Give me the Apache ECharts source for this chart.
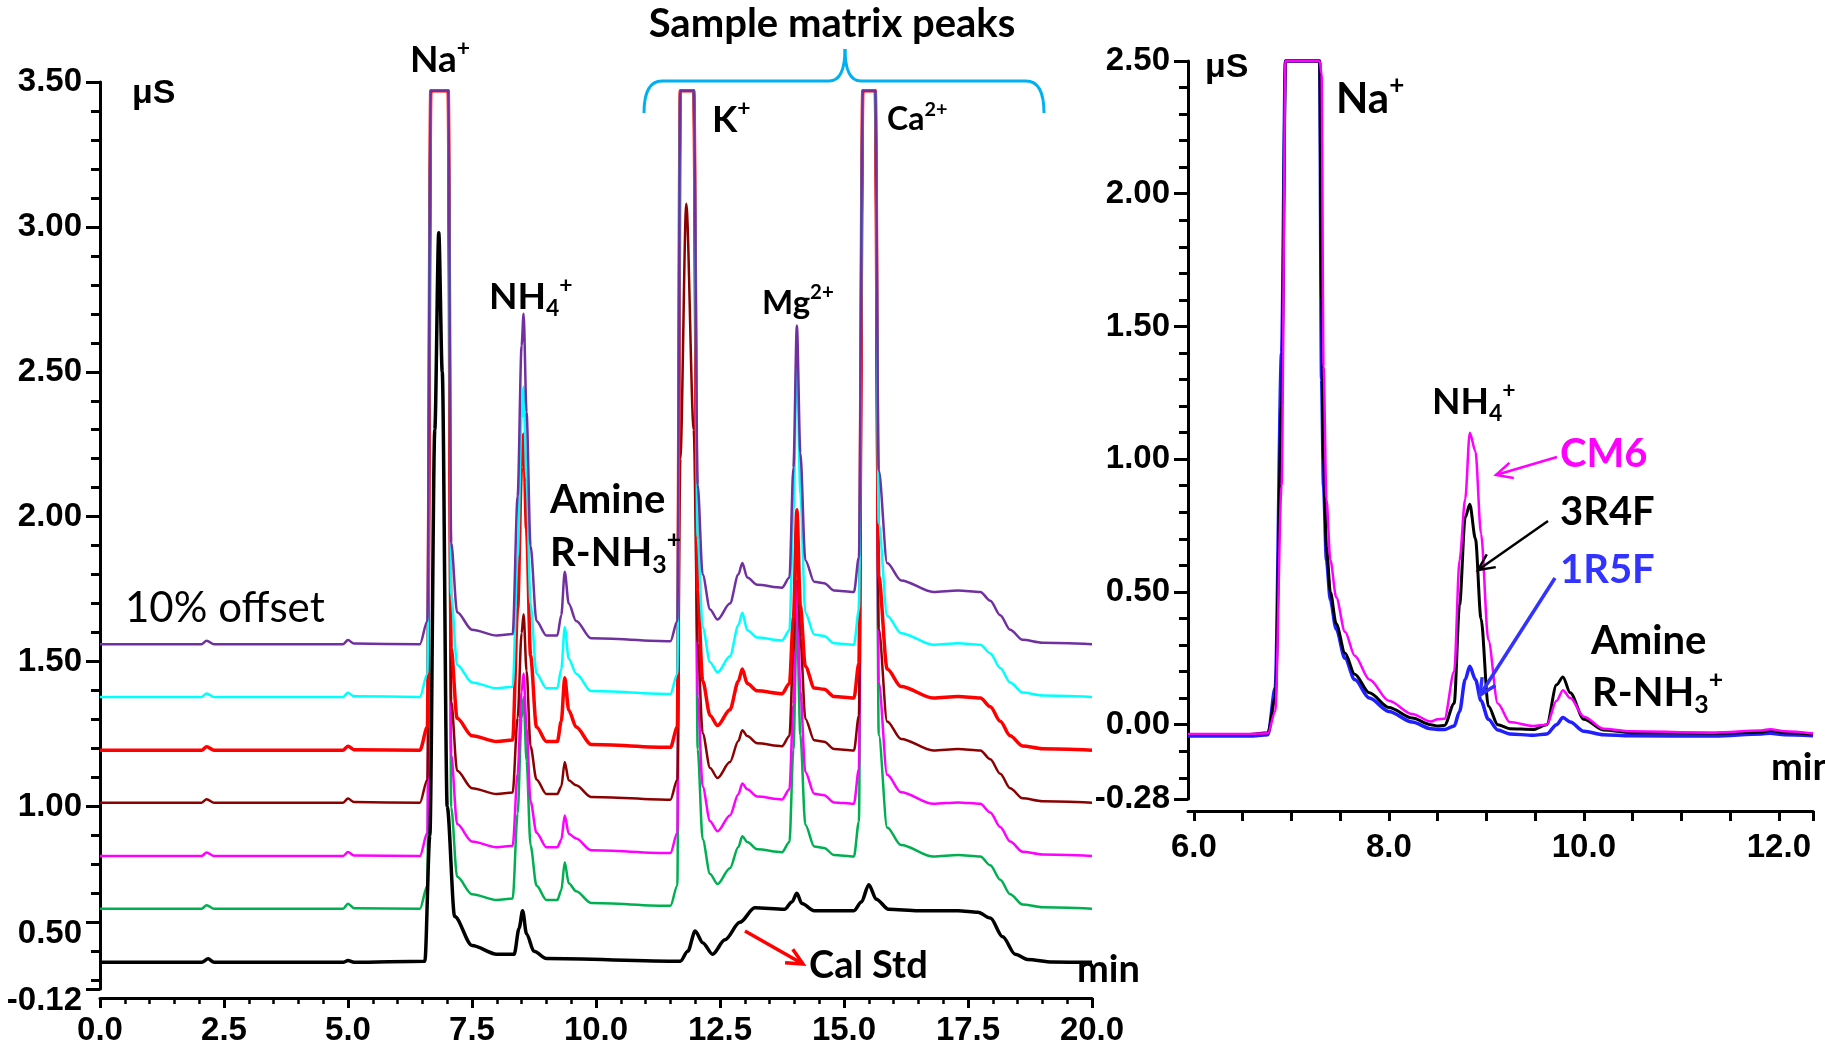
<!DOCTYPE html>
<html><head><meta charset="utf-8">
<script src="https://cdn.jsdelivr.net/npm/echarts@6/dist/echarts.min.js"></script>
<style>html,body{margin:0;padding:0;background:#fff}#c{width:1825px;height:1052px}</style>
</head><body><div id="c"></div>
<script>
// ---------- Left panel: offset chromatograms (time in min, signal in µS display units) ----------
const tSample = [0,2.05,2.15,2.3,4.9,5.0,5.12,6.45,6.6,6.67,7.02,7.08,7.2,7.5,8.0,8.32,8.42,8.5,8.54,8.6,8.68,8.8,9.0,9.22,9.3,9.37,9.45,9.6,9.9,11.5,11.64,11.7,11.82,11.97,12.05,12.15,12.3,12.45,12.7,12.87,12.95,13.05,13.25,13.75,13.9,13.98,14.05,14.12,14.22,14.4,14.6,14.8,15.2,15.3,15.38,15.63,15.7,15.87,16.15,16.8,17.3,17.75,17.95,18.15,18.35,18.6,19.0,20.0];
const purpleTrace = [1.56,1.56,1.572,1.56,1.56,1.574,1.562,1.56,1.64,3.47,3.47,1.91,1.67,1.61,1.59,1.595,2.07,2.59,2.70,2.36,1.90,1.64,1.59,1.59,1.66,1.81,1.70,1.64,1.58,1.57,1.64,3.47,3.47,3.47,2.11,1.80,1.68,1.645,1.70,1.80,1.84,1.79,1.765,1.755,1.79,2.17,2.66,2.22,1.85,1.775,1.77,1.745,1.74,1.86,3.47,3.47,2.16,1.84,1.78,1.74,1.745,1.74,1.71,1.66,1.61,1.575,1.565,1.56];
const cyanTrace = [1.378,1.378,1.39,1.378,1.378,1.392,1.38,1.378,1.458,3.47,3.47,1.728,1.488,1.428,1.408,1.413,1.86,2.34,2.448,2.127,1.70,1.458,1.408,1.408,1.474,1.618,1.51,1.458,1.398,1.388,1.458,3.47,3.47,3.47,1.928,1.618,1.498,1.463,1.518,1.625,1.668,1.608,1.583,1.573,1.608,2.02,2.548,2.08,1.668,1.593,1.588,1.563,1.558,1.678,3.47,3.47,1.978,1.658,1.598,1.558,1.563,1.558,1.528,1.478,1.428,1.393,1.383,1.378];
const redTrace = [1.194,1.194,1.206,1.194,1.194,1.208,1.196,1.194,1.274,3.47,3.47,1.544,1.304,1.244,1.224,1.229,1.685,2.175,2.284,1.957,1.521,1.274,1.224,1.224,1.294,1.444,1.332,1.274,1.214,1.204,1.274,3.47,3.47,3.47,1.744,1.434,1.314,1.279,1.334,1.432,1.474,1.424,1.399,1.389,1.424,1.651,2.024,1.692,1.484,1.409,1.404,1.379,1.374,1.494,3.47,3.47,1.794,1.474,1.414,1.374,1.379,1.374,1.344,1.294,1.244,1.209,1.199,1.194];
const maroonTrace = [1.013,1.013,1.025,1.013,1.013,1.027,1.015,1.013,1.093,3.47,3.47,1.363,1.123,1.063,1.043,1.048,1.306,1.598,1.663,1.468,1.208,1.093,1.043,1.043,1.069,1.153,1.09,1.073,1.033,1.023,1.093,2.2,3.08,2.3,1.563,1.253,1.133,1.098,1.153,1.226,1.263,1.243,1.218,1.208,1.243,1.536,1.963,1.583,1.303,1.228,1.223,1.198,1.193,1.313,3.47,3.47,1.613,1.293,1.233,1.193,1.198,1.193,1.163,1.113,1.063,1.028,1.018,1.013];
const magentaTrace = [0.829,0.829,0.841,0.829,0.829,0.843,0.831,0.829,0.909,3.47,3.47,1.179,0.939,0.879,0.859,0.864,1.113,1.396,1.459,1.27,1.018,0.909,0.859,0.859,0.885,0.969,0.906,0.889,0.849,0.839,0.909,3.47,3.47,3.47,1.379,1.069,0.949,0.914,0.969,1.042,1.079,1.059,1.034,1.024,1.059,1.352,1.779,1.399,1.119,1.044,1.039,1.014,1.009,1.129,3.47,3.47,1.429,1.109,1.049,1.009,1.014,1.009,0.979,0.929,0.879,0.844,0.834,0.829];
const greenTrace = [0.647,0.647,0.659,0.647,0.647,0.664,0.649,0.647,0.727,3.47,3.47,0.997,0.757,0.697,0.677,0.682,0.976,1.304,1.377,1.158,0.866,0.727,0.677,0.677,0.711,0.807,0.735,0.707,0.667,0.657,0.727,3.47,3.47,3.47,1.197,0.887,0.767,0.732,0.787,0.860,0.897,0.877,0.852,0.842,0.877,1.197,1.647,1.247,0.937,0.862,0.857,0.832,0.827,0.947,3.47,3.47,1.247,0.927,0.867,0.827,0.832,0.827,0.797,0.747,0.697,0.662,0.652,0.647];
const tCal = [0,2.05,2.18,2.3,4.9,5.0,5.12,6.55,6.65,6.75,6.83,6.9,7.0,7.15,7.5,8.0,8.35,8.45,8.52,8.6,8.75,9.0,11.7,11.85,12.0,12.15,12.35,12.6,12.9,13.2,13.8,13.95,14.05,14.15,14.4,15.2,15.35,15.5,15.65,15.9,16.5,17.3,17.7,17.95,18.2,18.45,18.7,19.2,20];
const calStd = [0.462,0.462,0.474,0.462,0.462,0.468,0.462,0.466,0.9,2.3,2.98,2.5,1.0,0.62,0.52,0.49,0.49,0.58,0.64,0.56,0.5,0.475,0.466,0.5,0.57,0.53,0.49,0.54,0.6,0.65,0.645,0.67,0.70,0.665,0.64,0.64,0.67,0.73,0.68,0.645,0.64,0.64,0.635,0.615,0.55,0.49,0.472,0.463,0.462];
const leftYTickValues = [0.37,0.6,1.0,1.5,2.0,2.5,3.0,3.5];
const leftYTickLabels = ['-0.12','0.50','1.00','1.50','2.00','2.50','3.00','3.50'];
const leftYMinorTicks = [0.4,0.5,0.7,0.8,0.9,1.1,1.2,1.3,1.4,1.6,1.7,1.8,1.9,2.1,2.2,2.3,2.4,2.6,2.7,2.8,2.9,3.1,3.2,3.3,3.4];

// ---------- Right panel: overlay of three samples ----------
const tRight = [5.94,6.57,6.76,6.835,6.9,6.94,7.29,7.31,7.33,7.36,7.40,7.46,7.55,7.65,7.8,8.0,8.24,8.43,8.5,8.57,8.67,8.725,8.783,8.83,8.888,8.945,9.02,9.117,9.24,9.48,9.62,9.72,9.785,9.86,10.0,10.2,10.48,11.34,11.82,11.91,12.06,12.35];
const cm6 = [-0.035,-0.035,-0.032,0.05,0.9,2.5,2.5,2.45,1.35,0.85,0.62,0.48,0.35,0.26,0.17,0.09,0.04,0.012,0.02,0.022,0.2,0.62,0.85,1.1,1.03,0.72,0.32,0.08,0.01,-0.005,0.0,0.09,0.13,0.1,0.03,-0.015,-0.025,-0.03,-0.022,-0.017,-0.025,-0.033];
const r3r4f = [-0.037,-0.037,-0.03,0.1,1.2,2.5,2.5,1.6,1.0,0.67,0.5,0.38,0.27,0.19,0.12,0.065,0.025,0.0,-0.005,-0.003,0.08,0.45,0.78,0.83,0.7,0.4,0.07,0.0,-0.015,-0.018,0.0,0.15,0.18,0.12,0.02,-0.02,-0.03,-0.032,-0.028,-0.022,-0.03,-0.035];
const r1r5f = [-0.043,-0.043,-0.038,0.14,1.4,2.5,2.5,1.3,0.9,0.62,0.47,0.36,0.25,0.17,0.1,0.05,0.01,-0.015,-0.018,-0.018,-0.005,0.05,0.17,0.22,0.17,0.09,0.02,-0.02,-0.035,-0.04,-0.035,0.0,0.027,0.01,-0.025,-0.038,-0.042,-0.043,-0.035,-0.032,-0.038,-0.042];
const rightYTickValues = [-0.28,0,0.5,1.0,1.5,2.0,2.5];
const rightYMinorTicks = [-0.2,-0.1,0.1,0.2,0.3,0.4,0.6,0.7,0.8,0.9,1.1,1.2,1.3,1.4,1.6,1.7,1.8,1.9,2.1,2.2,2.3,2.4];
const rightXLabelValues = [6,8,10,12];
const rightXTickValues = [6,6.5,7,7.5,8,8.5,9,9.5,10,10.5,11,11.5,12,12.35];

const zip = (t, v) => t.map((x, i) => [x, v[i]]);
const AX = '#000';
const TF = 'Liberation Sans, Arial';
const LBL = {color:'#000', fontFamily:TF, fontWeight:'bold', fontSize:33};

function line(name, xi, yi, t, v, color, w){
  return {name, type:'line', xAxisIndex:xi, yAxisIndex:yi, data:zip(t,v), showSymbol:false, symbol:'none',
    smooth:0.3, smoothMonotone:'x', clip:false, lineStyle:{color, width:w}, itemStyle:{color}, z:3};
}

const chart = echarts.init(document.getElementById('c'), null, {renderer:'canvas'});
const ANN = 'Lato, "Open Sans", sans-serif';
function rt(x, y, text, size, color, align){
  const c = color||'#000';
  const base = {fontSize:size, fontWeight:'bold', fontFamily:ANN, fill:c, lineHeight:size*1.25};
  return {type:'text', x, y, z:50, style:{text, fill:c, fontSize:size, fontWeight:'bold', fontFamily:ANN,
    align:align||'left', verticalAlign:'middle', lineHeight:size*1.25,
    rich:{
      b: base,
      sup:{fontSize:size*0.62, fontWeight:'bold', fontFamily:ANN, fill:c, verticalAlign:'top', lineHeight:size*1.25},
      sub:{fontSize:size*0.62, fontWeight:'bold', fontFamily:ANN, fill:c, verticalAlign:'bottom', lineHeight:size*1.25}
    }}};
}
function arrow(x1, y1, x2, y2, color, w, head){
  const a = Math.atan2(y2-y1, x2-x1), h = head||14, s = 0.45;
  return [
    {type:'line', z:50, shape:{x1,y1,x2,y2}, style:{stroke:color, lineWidth:w}},
    {type:'polyline', z:50, shape:{points:[[x2-h*Math.cos(a-s), y2-h*Math.sin(a-s)],[x2,y2],[x2-h*Math.cos(a+s), y2-h*Math.sin(a+s)]]}, style:{stroke:color, lineWidth:w, fill:null}}
  ];
}
const BR = {stroke:'#00B0F0', lineWidth:3, fill:null};
const brace = [
  {type:'bezierCurve', z:50, shape:{x1:644,y1:113,x2:662,y2:81,cpx1:644,cpy1:81}, style:BR},
  {type:'line', z:50, shape:{x1:662,y1:81,x2:829,y2:81}, style:BR},
  {type:'bezierCurve', z:50, shape:{x1:829,y1:81,x2:845,y2:49,cpx1:845,cpy1:81}, style:BR},
  {type:'bezierCurve', z:50, shape:{x1:845,y1:49,x2:861,y2:81,cpx1:845,cpy1:81}, style:BR},
  {type:'line', z:50, shape:{x1:861,y1:81,x2:1026,y2:81}, style:BR},
  {type:'bezierCurve', z:50, shape:{x1:1026,y1:81,x2:1044,y2:113,cpx1:1044,cpy1:81}, style:BR}
];

const graphic = [
  rt(410, 60, '{b|Na}{sup|+}', 37),
  rt(832, 24, 'Sample matrix peaks', 40, '#000', 'center'),
  ...brace,
  rt(712, 120, '{b|K}{sup|+}', 37),
  rt(887, 120, '{b|Ca}{sup|2+}', 32),
  rt(489, 297, '{b|NH}{sub|4}{sup|+}', 37),
  rt(762, 303, '{b|Mg}{sup|2+}', 33),
  rt(550, 500, 'Amine', 40),
  rt(550, 553, '{b|R-NH}{sub|3}{sup|+}', 40),
  {type:'text', x:125, y:608, z:50, style:{text:'10% offset', fill:'#000', fontSize:42, fontFamily:ANN, align:'left', verticalAlign:'middle'}},
  rt(809, 966, 'Cal Std', 38),
  rt(1077, 970, 'min', 38),
  {type:'text', x:132, y:94, z:50, style:{text:'μS', fill:'#000', fontSize:34, fontWeight:'bold', fontFamily:TF, align:'left', verticalAlign:'middle'}},
  ...arrow(745, 931, 803, 964, '#FF0000', 3.5, 18),
  {type:'text', x:1205, y:68, z:50, style:{text:'μS', fill:'#000', fontSize:34, fontWeight:'bold', fontFamily:TF, align:'left', verticalAlign:'middle'}},
  rt(1336, 99, '{b|Na}{sup|+}', 42),
  rt(1432, 402, '{b|NH}{sub|4}{sup|+}', 37),
  rt(1560, 454, 'CM6', 40, '#FF00FF'),
  rt(1560, 512, '3R4F', 40, '#000'),
  rt(1560, 570, '1R5F', 40, '#3333FF'),
  rt(1591, 641, 'Amine', 40),
  rt(1592, 693, '{b|R-NH}{sub|3}{sup|+}', 40),
  rt(1771, 768, 'min', 38),
  ...arrow(1557, 457, 1496, 475, '#FF00FF', 2.5, 18),
  ...arrow(1548, 521, 1478, 570, '#000', 2.5, 18),
  ...arrow(1555, 578, 1480, 695, '#3333FF', 3.5, 18)
];

const lowRich = {low:{padding:[24,0,0,0], color:'#000', fontFamily:TF, fontWeight:'bold', fontSize:33}};

const option = {
  animation:false,
  backgroundColor:'#fff',
  grid:[
    {left:100, top:82, width:992, height:907, containLabel:false},
    {left:1188, top:61, width:625, height:738, containLabel:false}
  ],
  xAxis:[
    {type:'value', gridIndex:0, min:0, max:20, interval:2.5, offset:9,
      axisLine:{show:true, onZero:false, lineStyle:{color:AX, width:3}},
      axisTick:{show:true, length:10, lineStyle:{color:AX, width:3}},
      minorTick:{show:true, splitNumber:5, length:6, lineStyle:{color:AX, width:2.5}},
      axisLabel:Object.assign({margin:16, formatter:v=>v.toFixed(1)}, LBL),
      splitLine:{show:false}, minorSplitLine:{show:false}},
    {type:'value', gridIndex:1, min:5.94, max:12.35, offset:12,
      axisLine:{show:true, onZero:false, lineStyle:{color:AX, width:3}},
      axisTick:{show:true, length:10, customValues:rightXTickValues, lineStyle:{color:AX, width:3}},
      axisLabel:Object.assign({margin:20, customValues:rightXLabelValues, formatter:v=>v.toFixed(1)}, LBL),
      splitLine:{show:false}}
  ],
  yAxis:[
    {type:'value', gridIndex:0, position:'left', min:0.37, max:3.5,
      axisLine:{show:true, onZero:false, lineStyle:{color:AX, width:3}},
      axisTick:{show:true, length:14, customValues:leftYTickValues, lineStyle:{color:AX, width:3}},
      axisLabel:Object.assign({margin:18, customValues:leftYTickValues, rich:lowRich,
        formatter:v=>{const i=leftYTickValues.findIndex(x=>Math.abs(x-v)<1e-6); if(i<0) return ''; return i<2 ? '{low|'+leftYTickLabels[i]+'}' : leftYTickLabels[i];}}, LBL),
      splitLine:{show:false}},
    {type:'value', gridIndex:0, position:'left', min:0.37, max:3.5,
      axisLine:{show:false}, axisLabel:{show:false}, splitLine:{show:false},
      axisTick:{show:true, length:9, customValues:leftYMinorTicks, lineStyle:{color:AX, width:3}}},
    {type:'value', gridIndex:1, position:'left', min:-0.28, max:2.5,
      axisLine:{show:true, onZero:false, lineStyle:{color:AX, width:3}},
      axisTick:{show:true, length:14, customValues:rightYTickValues, lineStyle:{color:AX, width:3}},
      axisLabel:Object.assign({margin:18, customValues:rightYTickValues, formatter:v=>v.toFixed(2)}, LBL),
      splitLine:{show:false}},
    {type:'value', gridIndex:1, position:'left', min:-0.28, max:2.5,
      axisLine:{show:false}, axisLabel:{show:false}, splitLine:{show:false},
      axisTick:{show:true, length:9, customValues:rightYMinorTicks, lineStyle:{color:AX, width:3}}}
  ],
  series:[
    line('green', 0, 0, tSample, greenTrace, '#00B050', 2.5),
    line('magenta', 0, 0, tSample, magentaTrace, '#FF00FF', 2.5),
    line('maroon', 0, 0, tSample, maroonTrace, '#8B0000', 2.5),
    line('red', 0, 0, tSample, redTrace, '#FF0000', 3.5),
    line('cyan', 0, 0, tSample, cyanTrace, '#00FFFF', 2.5),
    line('purple', 0, 0, tSample, purpleTrace, '#7030A0', 2.5),
    line('Cal Std', 0, 0, tCal, calStd, '#000000', 3.5),
    line('1R5F', 1, 2, tRight, r1r5f, '#1F1FFF', 3.5),
    line('3R4F', 1, 2, tRight, r3r4f, '#000000', 3),
    line('CM6', 1, 2, tRight, cm6, '#FF00FF', 2.5)
  ],
  graphic
};
chart.setOption(option);
</script></body></html>
